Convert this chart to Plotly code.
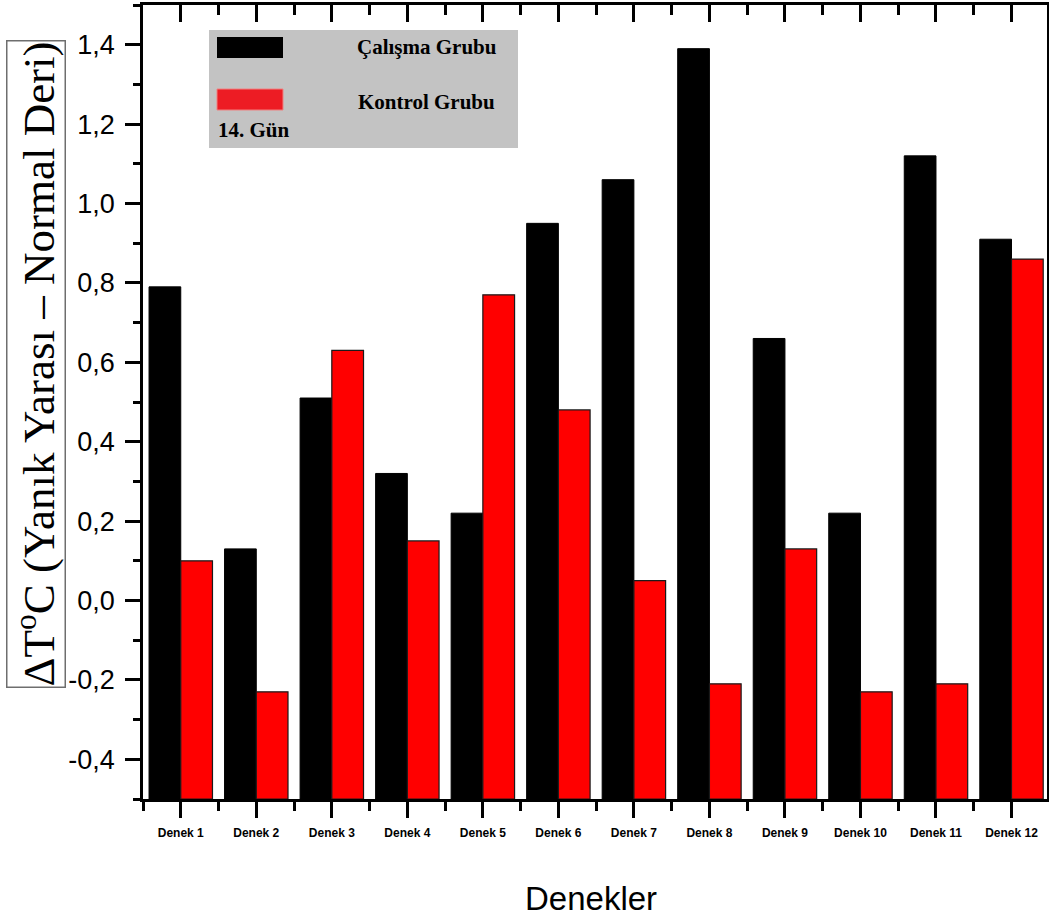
import plotly.graph_objects as go

# ---- data ----
categories = ["Denek 1", "Denek 2", "Denek 3", "Denek 4", "Denek 5", "Denek 6",
              "Denek 7", "Denek 8", "Denek 9", "Denek 10", "Denek 11", "Denek 12"]
calisma = [0.79, 0.13, 0.51, 0.32, 0.22, 0.95, 1.06, 1.39, 0.66, 0.22, 1.12, 0.91]
kontrol = [0.10, -0.23, 0.63, 0.15, 0.77, 0.48, 0.05, -0.21, 0.13, -0.23, -0.21, 0.86]
y_ticks = [-0.4, -0.2, 0.0, 0.2, 0.4, 0.6, 0.8, 1.0, 1.2, 1.4]
y_ticklabels = ["-0,4", "-0,2", "0,0", "0,2", "0,4", "0,6", "0,8", "1,0", "1,2", "1,4"]
legend_names = ["Çalışma Grubu", "Kontrol Grubu"]
legend_note = "14. Gün"
y_title = "ΔT<sup>o</sup>C (Yanık Yarası – Normal Deri)"
x_title = "Denekler"

BASE = -0.5  # bars rise from the bottom of the axis
W, H = 1049, 924
L, R, T, B = 143, 1047, 5, 799  # plot area in pixels


def px(x):
    return (x - L) / (R - L)


def py(y):
    return (B - y) / (B - T)


xpos = list(range(len(categories)))
fig = go.Figure()
fig.add_trace(go.Bar(x=xpos, y=[v - BASE for v in calisma], base=BASE,
                     name=legend_names[0], marker=dict(color="#000000", line=dict(color="#000000", width=1))))
fig.add_trace(go.Bar(x=xpos, y=[v - BASE for v in kontrol], base=BASE,
                     name=legend_names[1], marker=dict(color="#ff0000", line=dict(color="#1a1a1a", width=1.2))))
# non-drawing helper trace on a second y axis so the top axis (inward ticks) is created
fig.add_trace(go.Scatter(x=xpos, y=calisma, mode="none", xaxis="x2", yaxis="y2",
                         hoverinfo="skip", showlegend=False))

xrange = [-0.5, 11.47]
yrange = [-0.5, 1.5]
minor_x = [i + 0.5 for i in range(-1, len(categories))]
minor_y = [round(-0.5 + 0.2 * i, 2) for i in range(11)]

fig.update_layout(
    width=W, height=H,
    margin=dict(l=L, r=W - R, t=T, b=H - B, pad=0),
    paper_bgcolor="white", plot_bgcolor="rgba(0,0,0,0)",
    barmode="group", bargap=0.16, bargroupgap=0,
    showlegend=False,
    xaxis=dict(range=xrange, tickmode="array", tickvals=xpos, ticktext=categories,
               showgrid=False, zeroline=False, showline=True, linecolor="black", linewidth=2.5,
               ticks="outside", ticklen=16, tickwidth=2.5, tickcolor="black",
               tickfont=dict(family="Liberation Sans, Arial", size=12, color="black", weight="bold"),
               ticklabelstandoff=5,
               minor=dict(tickmode="array", tickvals=minor_x, ticks="outside", ticklen=9,
                          tickwidth=2.5, tickcolor="black", showgrid=False)),
    xaxis2=dict(range=xrange, side="top", anchor="y2",
                tickmode="array", tickvals=xpos, showticklabels=False,
                showgrid=False, zeroline=False, showline=True, linecolor="black", linewidth=2.5,
                ticks="inside", ticklen=17, tickwidth=2.5, tickcolor="black",
                minor=dict(tickmode="array", tickvals=minor_x, ticks="inside", ticklen=10,
                           tickwidth=2.5, tickcolor="black", showgrid=False)),
    yaxis=dict(range=yrange, tickmode="array", tickvals=y_ticks, ticktext=y_ticklabels,
               showgrid=False, zeroline=False, showline=True, linecolor="black", linewidth=2.5,
               ticks="outside", ticklen=15, tickwidth=2.5, tickcolor="black",
               tickfont=dict(family="Liberation Sans, Arial", size=27, color="black"),
               ticklabelstandoff=5,
               minor=dict(tickmode="array", tickvals=minor_y, ticks="outside", ticklen=7,
                          tickwidth=2.5, tickcolor="black", showgrid=False)),
    yaxis2=dict(range=yrange, side="right", anchor="x2", overlaying="y",
                showticklabels=False, ticks="", showgrid=False, zeroline=False,
                showline=True, linecolor="black", linewidth=2),
)

# legend box drawn manually (gray panel)
shapes = [
    dict(type="rect", xref="paper", yref="paper", x0=px(209), x1=px(518), y0=py(148), y1=py(30),
         fillcolor="#c3c3c3", line=dict(width=0), layer="above"),
    dict(type="rect", xref="paper", yref="paper", x0=px(217), x1=px(283), y0=py(58), y1=py(37),
         fillcolor="#000000", line=dict(width=0), layer="above"),
    dict(type="rect", xref="paper", yref="paper", x0=px(217), x1=px(283), y0=py(110), y1=py(89),
         fillcolor="#ed1c24", line=dict(color="#f08080", width=1), layer="above"),
]
fig.update_layout(shapes=shapes)

serif = "Liberation Serif, Times New Roman, serif"
ann = [
    dict(text=legend_names[0], x=px(427), y=py(47), font=dict(family=serif, size=21, color="black", weight="bold")),
    dict(text=legend_names[1], x=px(426), y=py(102), font=dict(family=serif, size=21, color="black", weight="bold")),
    dict(text=legend_note, x=px(254), y=py(130), font=dict(family=serif, size=21, color="black", weight="bold")),
    dict(text=y_title, x=px(36), y=py(364), textangle=-90,
         font=dict(family=serif, size=45, color="black"),
         bordercolor="#6e6e6e", borderwidth=1.5, borderpad=0, bgcolor="white"),
    dict(text=x_title, x=px(591), y=py(898),
         font=dict(family="Liberation Sans, Arial", size=33, color="black")),
]
for a in ann:
    a.update(xref="paper", yref="paper", showarrow=False, xanchor="center", yanchor="middle")
fig.update_layout(annotations=ann)

fig.write_html("out.html", config={"displayModeBar": False},
               post_script="document.body.style.margin='0px';document.body.style.padding='0px';")
